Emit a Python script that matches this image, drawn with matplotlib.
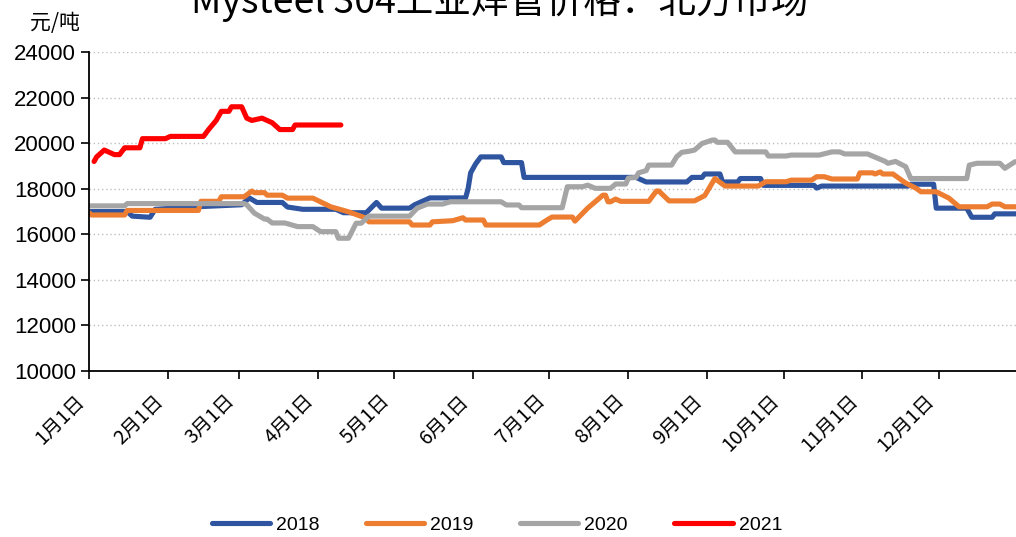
import matplotlib
matplotlib.use("Agg")
import matplotlib.pyplot as plt

plt.rcParams["font.family"] = ["Liberation Sans", "Noto Sans CJK SC", "DejaVu Sans"]

# day of year -> price (yuan/ton)
days_2018 = [0, 15, 17, 24, 26, 40, 60, 63, 66, 76, 78, 84, 97, 100, 109, 113, 115, 126, 128, 134,
             148, 149, 150, 152, 154, 162, 163, 170, 171, 211, 215, 219, 235, 237, 241, 242, 248,
             249, 255, 256, 264, 265, 285, 286, 288, 322, 323, 332, 333, 345, 347, 355, 356, 365]
vals_2018 = [17000, 17000, 16800, 16750, 17100, 17200, 17300, 17600, 17400, 17400, 17200, 17100,
             17100, 16950, 16950, 17400, 17150, 17150, 17300, 17600, 17600, 18000, 18700, 19100,
             19400, 19400, 19150, 19150, 18500, 18500, 18500, 18300, 18300, 18500, 18500, 18650,
             18650, 18300, 18300, 18450, 18450, 18150, 18150, 18030, 18120, 18120, 18200, 18200,
             17150, 17150, 16750, 16750, 16900, 16900]

days_2019 = [0, 1, 14, 15, 43, 44, 51, 52, 61, 64, 65, 69, 70, 76, 78, 88, 95, 102, 109, 110, 126,
             127, 134, 135, 143, 147, 148, 155, 156, 177, 180, 182, 190, 191, 196, 202, 203, 204,
             205, 207, 209, 220, 223, 224, 228, 238, 242, 246, 250, 263, 266, 274, 276, 284, 286,
             289, 292, 302, 303, 308, 309, 311, 312, 316, 321, 325, 327, 333, 338, 342, 353, 355,
             358, 360, 365]
vals_2019 = [16950, 16850, 16850, 17050, 17050, 17450, 17450, 17650, 17650, 17900, 17830, 17830,
             17720, 17720, 17590, 17590, 17210, 16990, 16710, 16550, 16550, 16410, 16410, 16550,
             16600, 16730, 16630, 16630, 16410, 16410, 16630, 16760, 16760, 16580, 17150, 17720,
             17720, 17430, 17430, 17550, 17450, 17450, 17900, 17900, 17470, 17470, 17700, 18450,
             18120, 18120, 18310, 18310, 18380, 18380, 18530, 18530, 18430, 18430, 18700, 18700,
             18650, 18740, 18650, 18650, 18250, 18030, 17870, 17870, 17590, 17210, 17210, 17330,
             17330, 17210, 17210]

days_2020 = [0, 14, 15, 61, 62, 65, 69, 70, 72, 77, 82, 88, 91, 97, 98, 102, 105, 107, 110, 126,
             129, 133, 139, 142, 162, 164, 169, 170, 186, 188, 194, 196, 199, 205, 207, 211, 212,
             215, 216, 219, 220, 229, 231, 233, 236, 238, 241, 245, 246, 247, 251, 254, 266, 267,
             274, 276, 287, 292, 295, 297, 306, 310, 313, 314, 317, 321, 323, 345, 346, 349, 358,
             360, 364]
vals_2020 = [17250, 17250, 17350, 17350, 17300, 16930, 16670, 16670, 16500, 16500, 16340, 16340,
             16120, 16120, 15830, 15830, 16490, 16490, 16800, 16800, 17150, 17330, 17330, 17430,
             17430, 17290, 17290, 17170, 17170, 18090, 18090, 18160, 18020, 18020, 18210, 18210,
             18470, 18500, 18700, 18800, 19040, 19040, 19410, 19600, 19650, 19700, 19990, 20140,
             20140, 20040, 20040, 19620, 19620, 19440, 19440, 19480, 19480, 19620, 19620, 19530,
             19530, 19340, 19200, 19120, 19200, 18970, 18450, 18450, 19040, 19120, 19120, 18900,
             19190]

days_2021 = [2, 3, 6, 8, 10, 12, 14, 15, 20, 21, 28, 30, 32, 45, 47, 50, 52, 55, 56, 60, 62, 64,
             68, 72, 75, 80, 81, 99]
vals_2021 = [19200, 19400, 19700, 19600, 19500, 19500, 19800, 19800, 19800, 20200, 20200, 20200,
             20300, 20300, 20600, 21000, 21400, 21400, 21600, 21600, 21100, 21000, 21100, 20900,
             20600, 20600, 20800, 20800]

month_days = [0, 31, 59, 90, 120, 151, 181, 212, 243, 273, 304, 334]
month_labels = [f"{m}月1日" for m in range(1, 13)]
y_ticks = list(range(10000, 24001, 2000))

series = [
    ("2018", days_2018, vals_2018, "#2F55A0"),
    ("2019", days_2019, vals_2019, "#ED7D31"),
    ("2020", days_2020, vals_2020, "#A5A5A5"),
    ("2021", days_2021, vals_2021, "#FF0000"),
]

cjk = ["Noto Sans CJK SC", "DejaVu Sans"]

fig = plt.figure(figsize=(10.16, 5.37), dpi=100)
ax = fig.add_axes([0.0876, 0.309, 0.914, 0.594])

for name, d, v, c in series:
    ax.plot(d, v, color=c, lw=3.7, label=name, solid_joinstyle="round", solid_capstyle="round")

ax.set_xlim(0, 365)
ax.set_ylim(10000, 24000)
ax.set_yticks(y_ticks)
ax.set_yticklabels([str(t) for t in y_ticks], fontsize=16)
ax.set_xticks(month_days)
ax.set_xticklabels(month_labels, rotation=45, ha="right", va="top", fontsize=14, family=cjk)
ax.tick_params(axis="both", direction="out", length=6, width=1.2, colors="black")
ax.tick_params(axis="x", pad=8)

for s in ["top", "right"]:
    ax.spines[s].set_visible(False)
for s in ["left", "bottom"]:
    ax.spines[s].set_linewidth(1.3)
    ax.spines[s].set_color("black")

ax.grid(axis="y", linestyle=(0, (1, 2)), color="#BFBFBF", lw=1.0)
ax.set_axisbelow(True)

fig.text(0.492, 0.997, "Mysteel 304工业焊管价格：北方市场", ha="center", va="center",
         fontsize=27, family=cjk)
fig.text(0.03, 0.958, "元/吨", ha="left", va="center", fontsize=15, family=cjk)

fig.legend(loc="center", bbox_to_anchor=(0.489, 0.022), ncol=4, frameon=False,
           fontsize=14, handlelength=3.0, columnspacing=2.4, handletextpad=0.3)

fig.savefig("out.png", dpi=100)
